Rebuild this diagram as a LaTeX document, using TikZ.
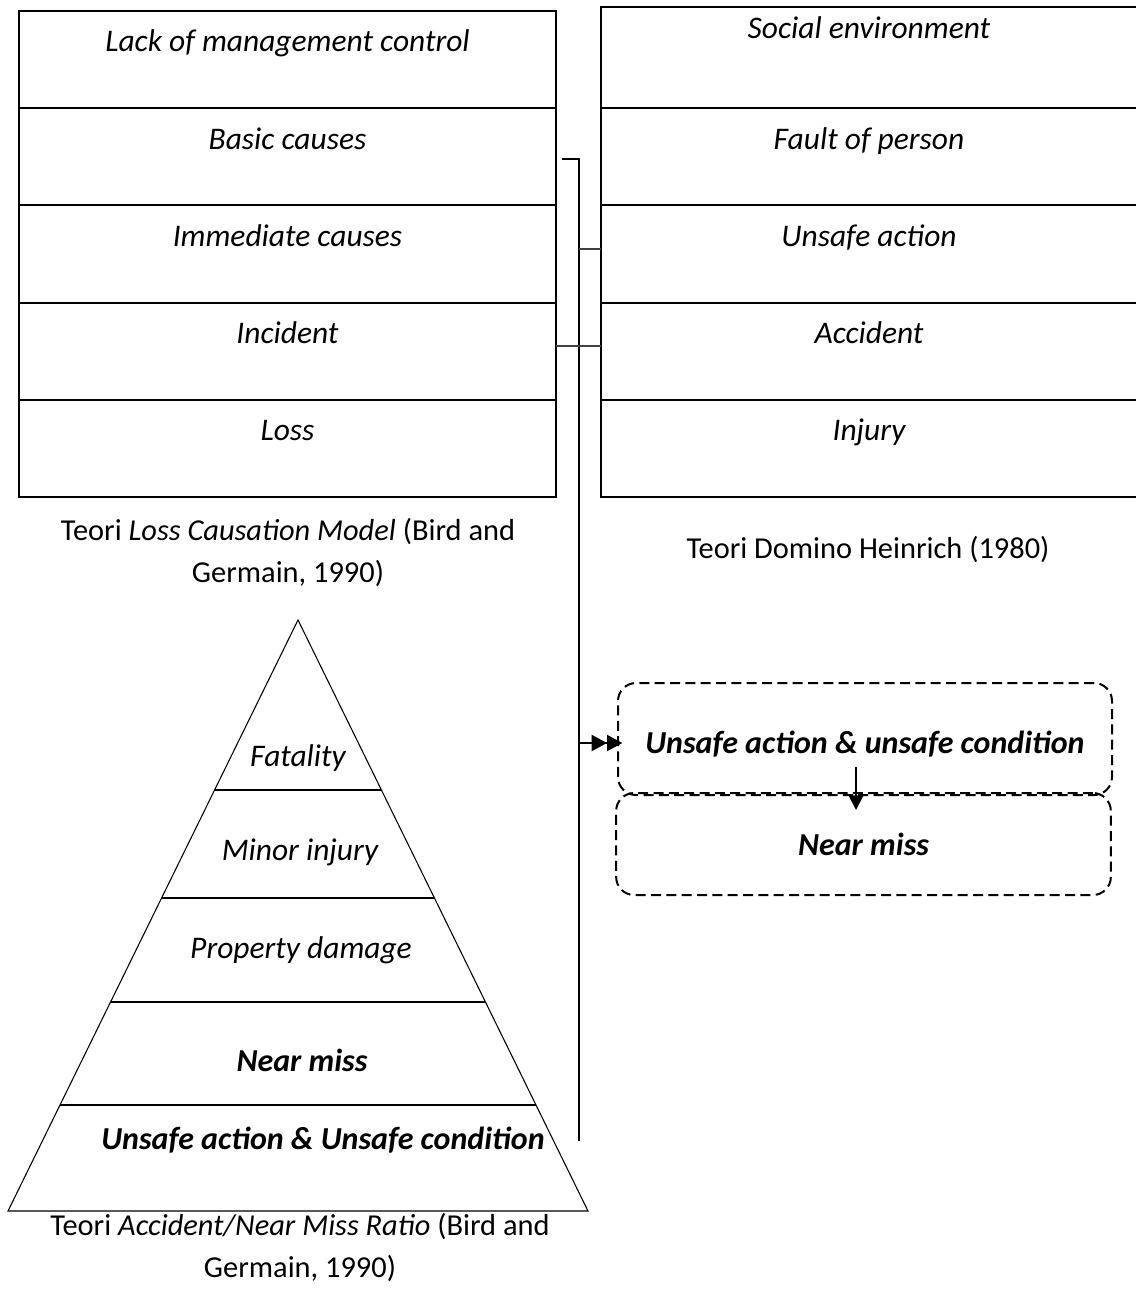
\documentclass[tikz,border=0pt]{standalone}
\usepackage{fontspec}
\setmainfont{Carlito}
\usetikzlibrary{arrows.meta,calc}
\begin{document}
\begin{tikzpicture}[x=0.75pt,y=-0.75pt,
  every node/.style={font=\fontsize{22.8}{31.5}\selectfont},
  cell/.style={draw,line width=1.5pt,inner sep=0pt,outer sep=0pt,align=center,minimum width=402.75pt,
    text height=30.75pt,text depth=42.15pt,anchor=north,font=\fontsize{23.6}{31}\selectfont\itshape},
  firstcell/.style={cell,minimum width=402pt,text height=24pt,text depth=51.9pt},
  caption/.style={align=center,inner sep=0pt},
  tri/.style={line width=0.8pt},
  trilabel/.style={inner sep=0pt,font=\fontsize{23.6}{31}\selectfont\itshape},
  boldlabel/.style={inner sep=0pt,font=\fontsize{24}{31}\selectfont\bfseries\itshape},
  conn/.style={line width=1.6pt},
  thinconn/.style={line width=0.8pt,draw=black!75},
  dashbox/.style={draw,line width=1.5pt,dash pattern=on 7.5pt off 4pt,rounded corners=13.5pt,
    inner sep=0pt,font=\fontsize{24}{31}\selectfont\bfseries\itshape}
]
\useasboundingbox (0,0) rectangle (1135,1302);
% left stack
\node[cell] (l1) at (287.5,11) {Lack of management control};
\node[cell] (l2) at (l1.south) {Basic causes};
\node[cell] (l3) at (l2.south) {Immediate causes};
\node[cell] (l4) at (l3.south) {Incident};
\node[cell] (l5) at (l4.south) {Loss};
% right stack
\node[firstcell] (r1) at (869,7) {Social environment};
\node[cell,minimum width=402pt] (r2) at (r1.south) {Fault of person};
\node[cell,minimum width=402pt] (r3) at (r2.south) {Unsafe action};
\node[cell,minimum width=402pt] (r4) at (r3.south) {Accident};
\node[cell,minimum width=402pt] (r5) at (r4.south) {Injury};
% captions
\node[caption] (cap1) at (288,552) {Teori \textit{Loss Causation Model} (Bird and\\Germain, 1990)};
\node[caption] (cap2) at (868,549) {Teori Domino Heinrich (1980)};
\node[caption] (cap3) at (300,1247) {Teori \textit{Accident/Near Miss Ratio} (Bird and\\Germain, 1990)};
% triangle
\coordinate (apex) at (298,620);
\coordinate (bl) at (8,1211);
\coordinate (br) at (588,1211);
\draw[tri] (apex) -- (bl) -- (br) -- cycle;
\foreach \t in {0.2876,0.4704,0.6464,0.8206}
  \draw[tri] ($(apex)!\t!(bl)$) -- ($(apex)!\t!(br)$);
\node[trilabel] (t1) at (298,758) {Fatality};
\node[trilabel] (t2) at (300,852) {Minor injury};
\node[trilabel] (t3) at (301,950) {Property damage};
\node[boldlabel] (t4) at (302,1060) {Near miss};
\node[boldlabel] (t5) at (323,1140) {Unsafe action \& Unsafe condition};
% dashed boxes
\node[dashbox,minimum width=370.5pt,minimum height=84pt,text height=26pt,text depth=5pt] (d1) at (865,739) {Unsafe action \& unsafe condition};
\node[dashbox,minimum width=371pt,minimum height=76.5pt] (d2) at (863.5,844) {Near miss};
% connectors
\coordinate (c0) at (562,159);
\coordinate (c1) at (579,159);
\coordinate (c2) at (579,1141);
\coordinate (c3) at (579,743);
\draw[conn] (c0) -- (c1) -- (c2);
\draw[conn,shorten >=-4pt,-{Triangle[length=11.5pt,width=12pt]Triangle[length=11.5pt,width=12pt]}] (c3) -- (c3 -| d1.west);
\draw[thinconn] (c1 |- 0,249) -- (r3.west |- 0,249);
\draw[thinconn] (l4.east |- 0,346) -- (r4.west |- 0,346);
\coordinate (a1) at (856,767);
\coordinate (a2) at (856,810);
\draw[line width=1.5pt,-{Triangle[length=11pt,width=11pt]}] (a1) -- (a2);
\end{tikzpicture}
\end{document}
